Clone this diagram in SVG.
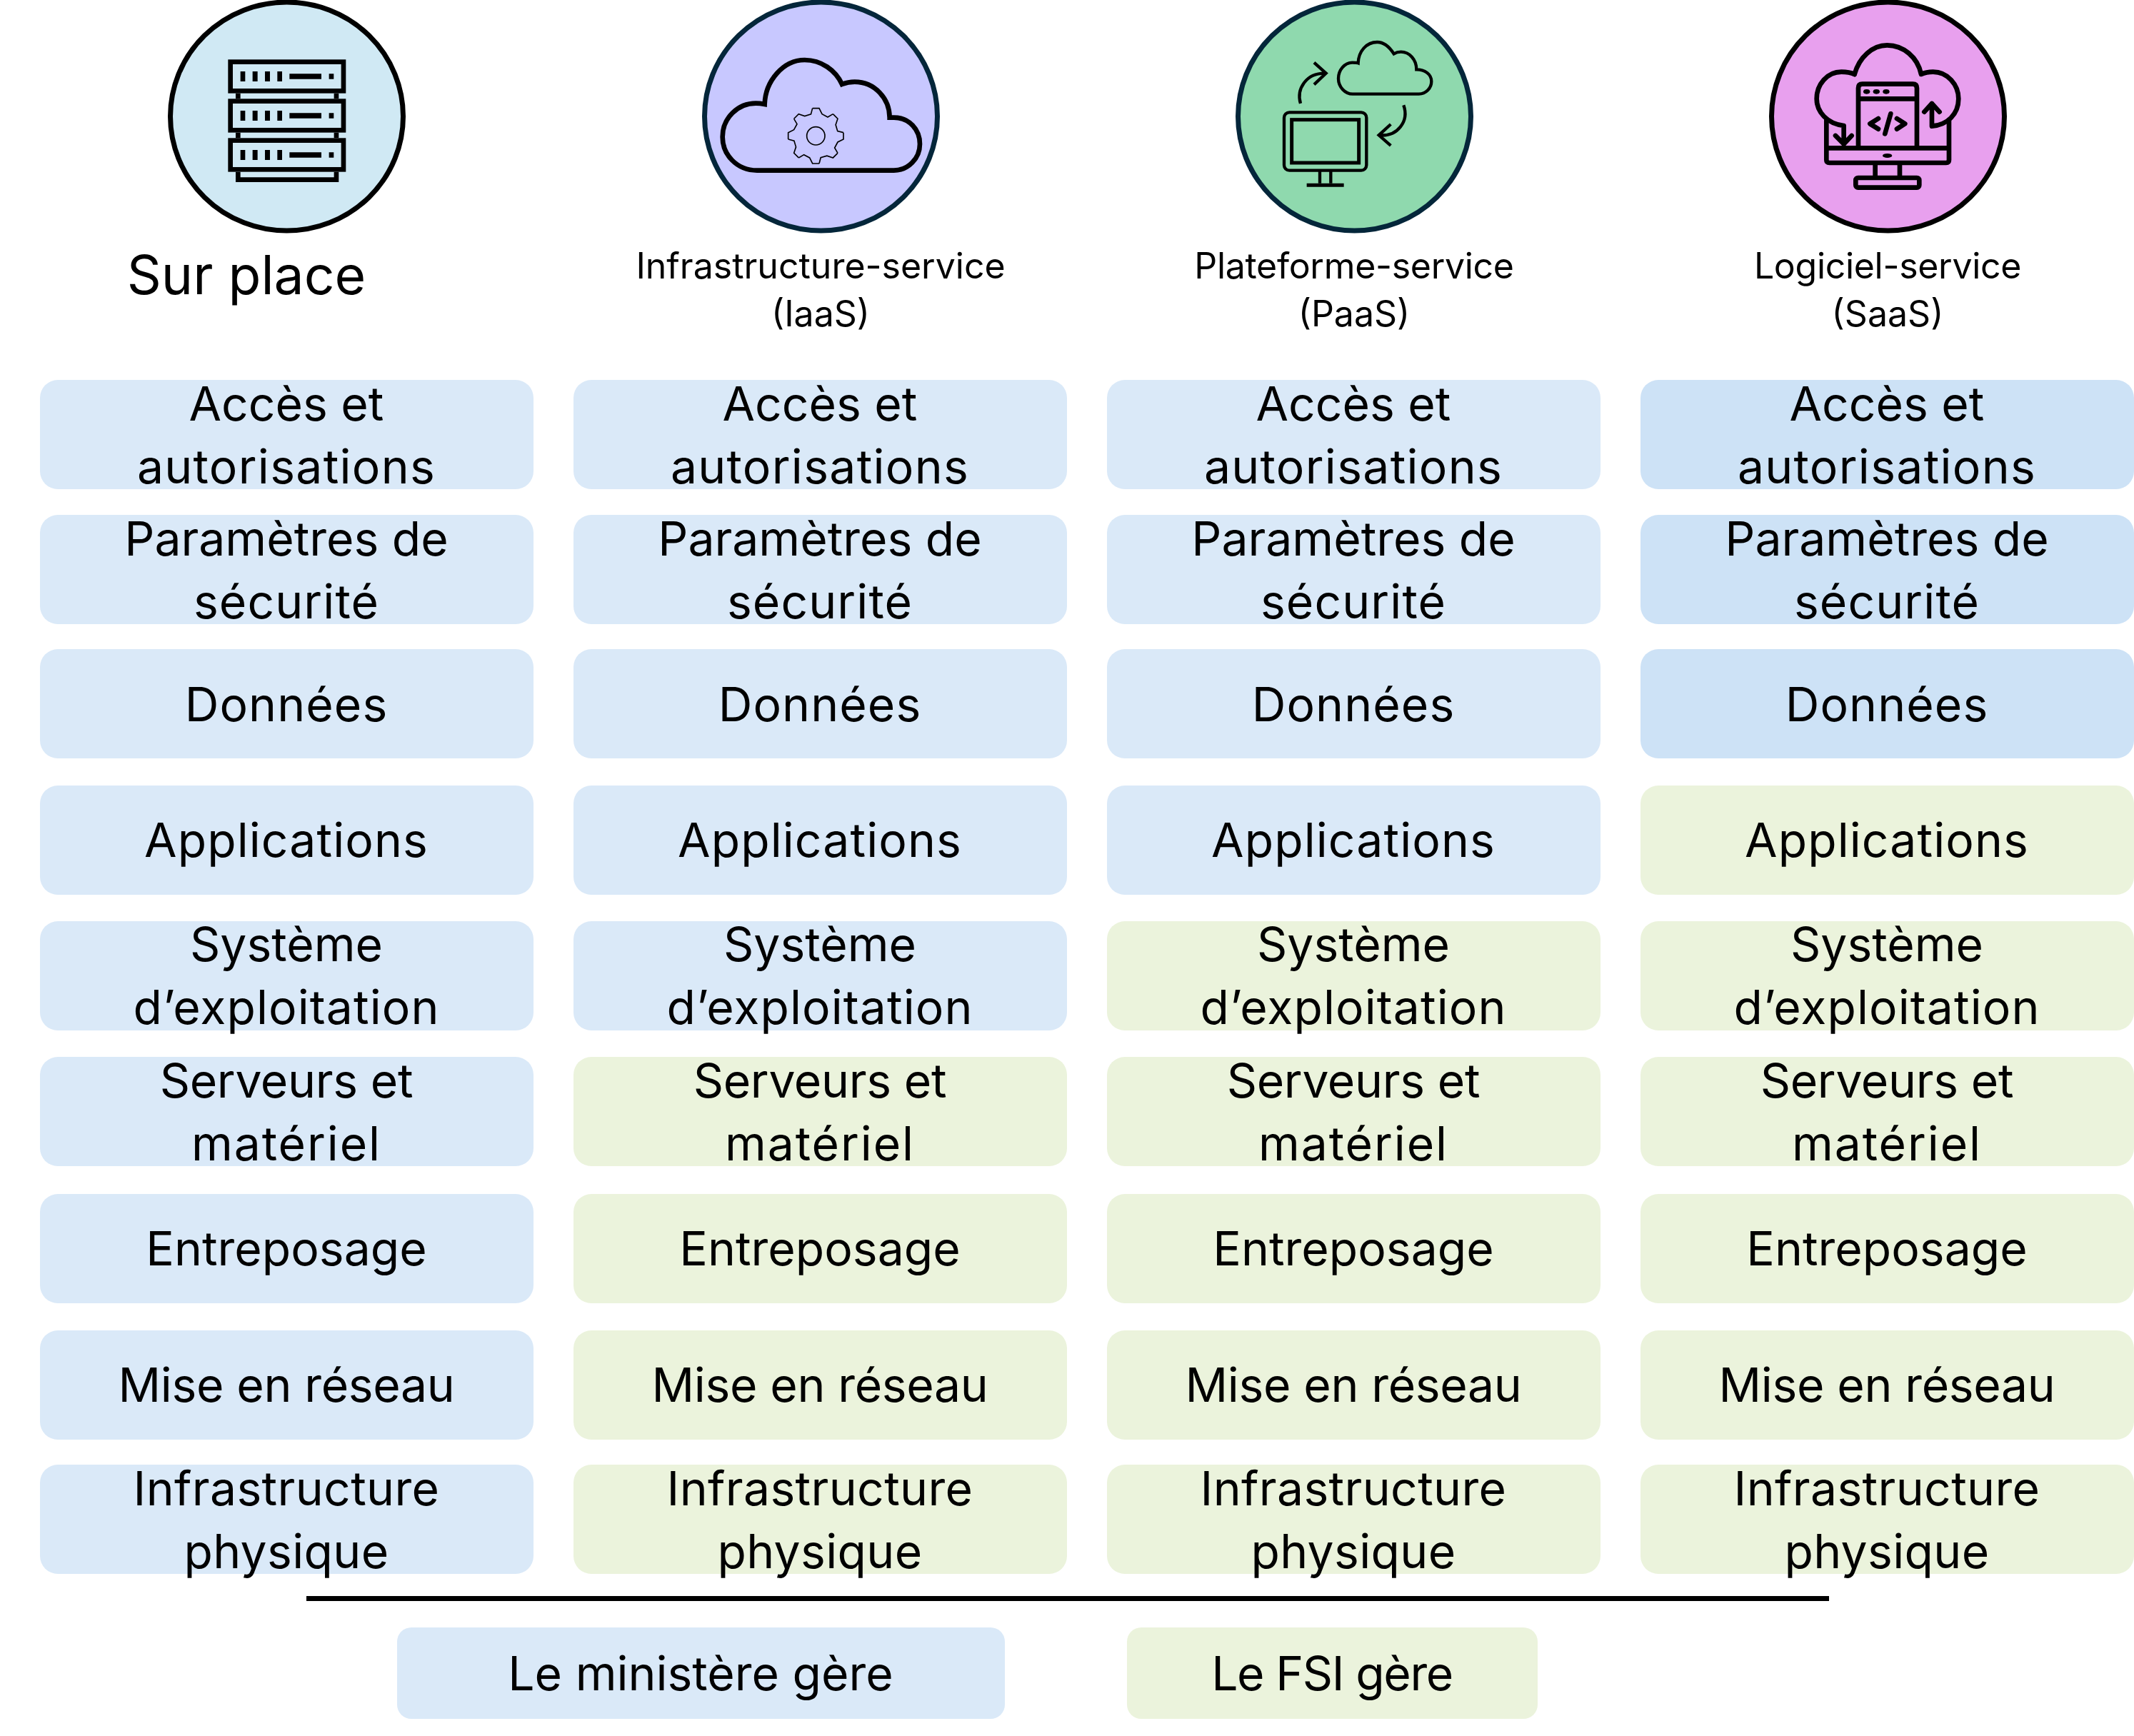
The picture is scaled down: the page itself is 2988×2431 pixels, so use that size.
<svg xmlns="http://www.w3.org/2000/svg" width="2988" height="2431" viewBox="0 0 2988 2431">
<style>
text{font-family:"Inter","Liberation Sans",sans-serif;fill:#000;text-anchor:middle}
.t{font-size:66px}
.h{font-size:50px}
.s1{letter-spacing:1.1px}
.s2{letter-spacing:1.3px}
.s3{letter-spacing:1.9px}
.s4{letter-spacing:.35px}
.s5{letter-spacing:-.35px}
.s6{letter-spacing:-1.4px}
.s7{letter-spacing:-.3px}
.b{fill:#DAE9F8}
.d{fill:#CDE2F6}
.g{fill:#EBF3DC}
.i{fill:none;stroke:#000}
.k{fill:#000;stroke:none}
</style>
<defs>
<rect id="cell" width="691" height="153" rx="25"/>
<g id="srv"><rect class="i" stroke-width="20" x="428" y="10" width="475" height="122"/><path class="k" d="M470 50h20v42h-20zM521 50h21v42h-21zM573 50h21v42h-21zM625 50h20v42h-20zM676 60h134v22h-134zM842 60h20v22h-20z"/></g>
<path id="seg" d="M-14-116L14-116L26-92L50-79L72-92"/>
</defs>
<rect width="2988" height="2431" fill="#fff"/>
<g id="icon-onprem">
<ellipse cx="401.500" cy="163" rx="163" ry="160" fill="#D0E9F4" stroke="#000" stroke-width="7"/>
<g transform="translate(180 0) scale(.3333)">
<use href="#srv" y="250"/><use href="#srv" y="415"/><use href="#srv" y="580"/>
<path class="i" stroke-width="20" d="M460 392V415M873 392V415M460 557V580M873 557V580M460 722V755H873V722"/>
</g>
<text x="345" y="412" style="font-size:75px">Sur place</text>
</g>
<g id="icon-iaas">
<ellipse cx="1149.500" cy="163" rx="163" ry="160" fill="#C8C8FF" stroke="#04263A" stroke-width="7"/>
<g transform="translate(950 0) scale(.3333)">
<path class="i" stroke-width="20" d="M330 716C245 716 185 650 185 575C185 495 250 434 325 434C340 434 352 436 362 438C365 340 440 252 530 252C600 252 660 295 687 354C705 347 722 344 740 344C825 344 887 415 887 494C890 494 893 494 905 494C970 494 1014 545 1014 605C1014 665 965 716 905 716Z"/>
<g transform="translate(577 571)" class="i" stroke-width="5">
<use href="#seg"/><use href="#seg" transform="rotate(45)"/><use href="#seg" transform="rotate(90)"/><use href="#seg" transform="rotate(135)"/><use href="#seg" transform="rotate(180)"/><use href="#seg" transform="rotate(225)"/><use href="#seg" transform="rotate(270)"/><use href="#seg" transform="rotate(315)"/>
<circle r="38"/>
</g>
</g>
<text class="h" x="1149" y="390">Infrastructure-service</text>
<text class="h" x="1149" y="457">(IaaS)</text>
</g>
<g id="icon-paas">
<ellipse cx="1896.500" cy="163" rx="163" ry="160" fill="#8FD9AE" stroke="#04263A" stroke-width="7"/>
<g transform="translate(1700 0) scale(.3333)" class="i" stroke-width="13">
<path d="M582 395H860C890 395 913 370 913 342C913 312 885 292 850 292C850 250 820 218 785 218C775 218 765 220 755 226C735 195 710 177 685 177C640 177 607 215 605 265C600 263 590 263 580 263C548 263 522 295 522 330C522 365 550 395 582 395Z"/>
<path d="M363 435C345 375 385 305 470 308M420 263L470 308L420 355M796 442C820 510 770 575 695 568M742 522L692 568L742 612"/>
<rect x="294" y="472" width="346" height="244" rx="22"/>
<rect x="326" y="503" width="282" height="181" stroke-width="15"/>
<path d="M444 716V770M490 716V770"/>
<path d="M389 778H545" stroke-width="15"/>
</g>
<text class="h s7" x="1896" y="390">Plateforme-service</text>
<text class="h" x="1896" y="457">(PaaS)</text>
</g>
<g id="icon-saas">
<ellipse cx="2643.500" cy="163" rx="163" ry="160" fill="#E8A0EE" stroke="#000" stroke-width="7"/>
<g transform="translate(2450 0) scale(.3333)" class="i" stroke-width="20" stroke-linecap="round" stroke-linejoin="round">
<path d="M440 312C425 305 410 302 385 302C325 302 281 355 281 415C281 470 325 520 395 528V605M360 570L395 605L428 570"/>
<path d="M440 312C460 240 515 190 577 190C645 190 705 240 720 312C735 305 750 302 770 302C830 302 877 355 877 415C877 480 830 525 765 530V435M733 470L765 435L797 470"/>
<path d="M322 505V672Q322 684 335 684H825Q837 684 837 672V505M322 622H837"/>
<path d="M456 612V370Q456 353 473 353H685Q702 353 702 370V612M456 415H702"/>
<path d="M540 498L505 520L540 542M618 498L652 520L618 542M592 478L568 562"/>
<path d="M527 690V740M630 690V740"/>
<rect x="445" y="747" width="267" height="41" rx="10"/>
<g class="k"><ellipse cx="491" cy="385" rx="14" ry="10"/><ellipse cx="532" cy="385" rx="14" ry="10"/><ellipse cx="573" cy="385" rx="14" ry="10"/><ellipse cx="578" cy="654" rx="20" ry="9"/></g>
</g>
<text class="h s7" x="2643" y="390">Logiciel-service</text>
<text class="h" x="2643" y="457">(SaaS)</text>
</g>
<g id="col-onprem">
<g id="a1"><use href="#cell" class="b" x="56" y="532"/><text class="t" x="401" y="589">Accès et</text><text class="t s2" x="401" y="677">autorisations</text></g>
<g id="a2"><use href="#cell" class="b" x="56" y="721"/><text class="t" x="401" y="778">Paramètres de</text><text class="t s1" x="401" y="866">sécurité</text></g>
<g id="a3"><use href="#cell" class="b" x="56" y="909"/><text class="t s1" x="401" y="1010">Données</text></g>
<g id="a4"><use href="#cell" class="b" x="56" y="1100"/><text class="t s1" x="401" y="1200">Applications</text></g>
<g id="a5"><use href="#cell" class="b" x="56" y="1290"/><text class="t" x="401" y="1346">Système</text><text class="t s1" x="401" y="1434">d’exploitation</text></g>
<g id="a6"><use href="#cell" class="b" x="56" y="1480"/><text class="t s5" x="401" y="1537">Serveurs et</text><text class="t s3" x="401" y="1625">matériel</text></g>
<g id="a7"><use href="#cell" class="b" x="56" y="1672"/><text class="t" x="401" y="1772">Entreposage</text></g>
<g id="a8"><use href="#cell" class="b" x="56" y="1863"/><text class="t s5" x="401" y="1963">Mise en réseau</text></g>
<g id="a9"><use href="#cell" class="b" x="56" y="2051"/><text class="t s4" x="401" y="2108">Infrastructure</text><text class="t s4" x="401" y="2196">physique</text></g>
</g>
<g id="col-iaas">
<g id="b1"><use href="#cell" class="b" x="803" y="532"/><text class="t" x="1148" y="589">Accès et</text><text class="t s2" x="1148" y="677">autorisations</text></g>
<g id="b2"><use href="#cell" class="b" x="803" y="721"/><text class="t" x="1148" y="778">Paramètres de</text><text class="t s1" x="1148" y="866">sécurité</text></g>
<g id="b3"><use href="#cell" class="b" x="803" y="909"/><text class="t s1" x="1148" y="1010">Données</text></g>
<g id="b4"><use href="#cell" class="b" x="803" y="1100"/><text class="t s1" x="1148" y="1200">Applications</text></g>
<g id="b5"><use href="#cell" class="b" x="803" y="1290"/><text class="t" x="1148" y="1346">Système</text><text class="t s1" x="1148" y="1434">d’exploitation</text></g>
<g id="b6"><use href="#cell" class="g" x="803" y="1480"/><text class="t s5" x="1148" y="1537">Serveurs et</text><text class="t s3" x="1148" y="1625">matériel</text></g>
<g id="b7"><use href="#cell" class="g" x="803" y="1672"/><text class="t" x="1148" y="1772">Entreposage</text></g>
<g id="b8"><use href="#cell" class="g" x="803" y="1863"/><text class="t s5" x="1148" y="1963">Mise en réseau</text></g>
<g id="b9"><use href="#cell" class="g" x="803" y="2051"/><text class="t s4" x="1148" y="2108">Infrastructure</text><text class="t s4" x="1148" y="2196">physique</text></g>
</g>
<g id="col-paas">
<g id="c1"><use href="#cell" class="b" x="1550" y="532"/><text class="t" x="1895" y="589">Accès et</text><text class="t s2" x="1895" y="677">autorisations</text></g>
<g id="c2"><use href="#cell" class="b" x="1550" y="721"/><text class="t" x="1895" y="778">Paramètres de</text><text class="t s1" x="1895" y="866">sécurité</text></g>
<g id="c3"><use href="#cell" class="b" x="1550" y="909"/><text class="t s1" x="1895" y="1010">Données</text></g>
<g id="c4"><use href="#cell" class="b" x="1550" y="1100"/><text class="t s1" x="1895" y="1200">Applications</text></g>
<g id="c5"><use href="#cell" class="g" x="1550" y="1290"/><text class="t" x="1895" y="1346">Système</text><text class="t s1" x="1895" y="1434">d’exploitation</text></g>
<g id="c6"><use href="#cell" class="g" x="1550" y="1480"/><text class="t s5" x="1895" y="1537">Serveurs et</text><text class="t s3" x="1895" y="1625">matériel</text></g>
<g id="c7"><use href="#cell" class="g" x="1550" y="1672"/><text class="t" x="1895" y="1772">Entreposage</text></g>
<g id="c8"><use href="#cell" class="g" x="1550" y="1863"/><text class="t s5" x="1895" y="1963">Mise en réseau</text></g>
<g id="c9"><use href="#cell" class="g" x="1550" y="2051"/><text class="t s4" x="1895" y="2108">Infrastructure</text><text class="t s4" x="1895" y="2196">physique</text></g>
</g>
<g id="col-saas">
<g id="d1"><use href="#cell" class="d" x="2297" y="532"/><text class="t" x="2642" y="589">Accès et</text><text class="t s2" x="2642" y="677">autorisations</text></g>
<g id="d2"><use href="#cell" class="d" x="2297" y="721"/><text class="t" x="2642" y="778">Paramètres de</text><text class="t s1" x="2642" y="866">sécurité</text></g>
<g id="d3"><use href="#cell" class="d" x="2297" y="909"/><text class="t s1" x="2642" y="1010">Données</text></g>
<g id="d4"><use href="#cell" class="g" x="2297" y="1100"/><text class="t s1" x="2642" y="1200">Applications</text></g>
<g id="d5"><use href="#cell" class="g" x="2297" y="1290"/><text class="t" x="2642" y="1346">Système</text><text class="t s1" x="2642" y="1434">d’exploitation</text></g>
<g id="d6"><use href="#cell" class="g" x="2297" y="1480"/><text class="t s5" x="2642" y="1537">Serveurs et</text><text class="t s3" x="2642" y="1625">matériel</text></g>
<g id="d7"><use href="#cell" class="g" x="2297" y="1672"/><text class="t" x="2642" y="1772">Entreposage</text></g>
<g id="d8"><use href="#cell" class="g" x="2297" y="1863"/><text class="t s5" x="2642" y="1963">Mise en réseau</text></g>
<g id="d9"><use href="#cell" class="g" x="2297" y="2051"/><text class="t s4" x="2642" y="2108">Infrastructure</text><text class="t s4" x="2642" y="2196">physique</text></g>
</g>
<g id="connectors"><path d="M429 2238.500H2561" stroke="#000" stroke-width="7" fill="none"/></g>
<g id="legend-ministere"><rect class="b" x="556" y="2279" width="851" height="128" rx="20"/><text class="t" x="981" y="2367">Le ministère gère</text></g>
<g id="legend-fsi"><rect class="g" x="1578" y="2279" width="575" height="128" rx="20"/><text class="t s6" x="1865" y="2367">Le FSI gère</text></g>
</svg>
